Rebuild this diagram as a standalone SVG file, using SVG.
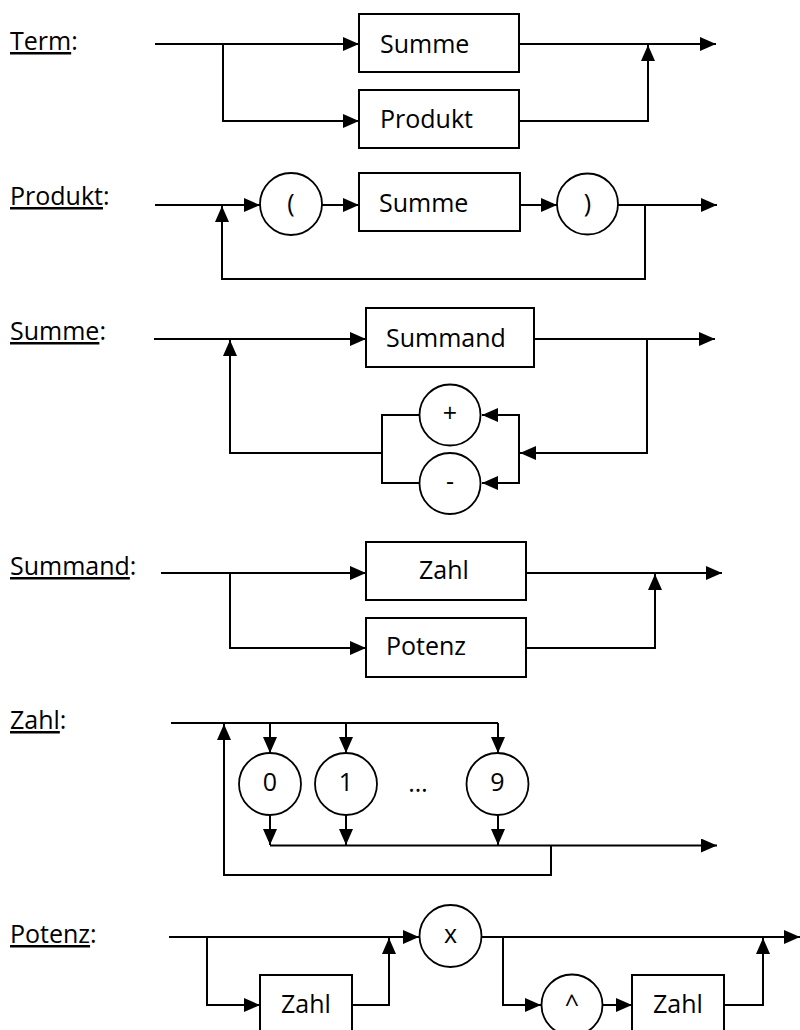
<svg xmlns="http://www.w3.org/2000/svg" width="800" height="1030" viewBox="0 0 800 1030">
<style>
text{font-family:"Open Sans","Noto Sans","DejaVu Sans",sans-serif;font-size:25px;fill:#000}
.lbl{font-size:25px}
.c{text-anchor:middle}
.box{fill:#fff;stroke:#000;stroke-width:2}
.circ{fill:#fff;stroke:#000;stroke-width:1.8}
.ln{fill:none;stroke:#000;stroke-width:2}
.ar{fill:none;stroke:#000;stroke-width:2;marker-end:url(#ah)}
</style>
<defs>
<marker id="ah" viewBox="0 0 16 14" markerWidth="16" markerHeight="14" refX="16" refY="7" orient="auto" markerUnits="userSpaceOnUse">
<path d="M0,0 L16,7 L0,14 z" fill="#000"/>
</marker>
</defs>
<rect width="800" height="1030" fill="#fff"/>

<g id="labels">
<text id="lbl-term" x="10" y="50"><tspan text-decoration="underline">Term</tspan>:</text>
<text id="lbl-produkt" x="10" y="205"><tspan text-decoration="underline">Produkt</tspan>:</text>
<text id="lbl-summe" x="10" y="340"><tspan text-decoration="underline">Summe</tspan>:</text>
<text id="lbl-summand" x="10" y="575"><tspan text-decoration="underline">Summand</tspan>:</text>
<text id="lbl-zahl" x="10" y="729"><tspan text-decoration="underline">Zahl</tspan>:</text>
<text id="lbl-potenz" x="10" y="943"><tspan text-decoration="underline">Potenz</tspan>:</text>
</g>

<g id="connectors">
<!-- Term -->
<path class="ar" d="M155,44 H359"/>
<path class="ar" d="M223,44 V121 H359"/>
<path class="ar" d="M519,44 H716"/>
<path class="ar" d="M519,121 H648 V45"/>
<!-- Produkt -->
<path class="ar" d="M155,205 H260"/>
<path class="ar" d="M322,205 H359"/>
<path class="ar" d="M520,205 H557"/>
<path class="ar" d="M618,205 H717"/>
<path class="ar" d="M645,205 V279 H222 V206"/>
<!-- Summe -->
<path class="ar" d="M154,339 H366"/>
<path class="ar" d="M534,339 H715"/>
<path class="ar" d="M647,339 V453 H520"/>
<path class="ln" d="M519,414 V484"/>
<path class="ar" d="M519,415 H482"/>
<path class="ar" d="M519,483 H482"/>
<path class="ln" d="M419,415 H382 V483 H419"/>
<path class="ar" d="M382,453 H230 V340"/>
<!-- Summand -->
<path class="ar" d="M161,573 H366"/>
<path class="ar" d="M230,573 V648 H366"/>
<path class="ar" d="M526,573 H722"/>
<path class="ar" d="M526,648 H655 V574"/>
<!-- Zahl -->
<path class="ln" d="M171,723 H498"/>
<path class="ar" d="M270,723 V753"/>
<path class="ar" d="M346,723 V753"/>
<path class="ar" d="M498,723 V753"/>
<path class="ar" d="M270,815 V845"/>
<path class="ar" d="M346,815 V845"/>
<path class="ar" d="M498,815 V845"/>
<path class="ar" d="M270,845.5 H717"/>
<path class="ar" d="M551,845 V875 H224 V724"/>
<!-- Potenz -->
<path class="ar" d="M169,937 H419"/>
<path class="ar" d="M207,937 V1005 H260"/>
<path class="ar" d="M352,1005 H389 V938"/>
<path class="ar" d="M481,937 H800"/>
<path class="ar" d="M503,937 V1005 H541"/>
<path class="ar" d="M603,1005 H632"/>
<path class="ar" d="M724,1005 H763 V938"/>
</g>

<!-- Term nodes -->
<g id="term-summe"><rect class="box" x="359" y="14" width="160" height="58"/><text x="380" y="53">Summe</text></g>
<g id="term-produkt"><rect class="box" x="359" y="90" width="160" height="58"/><text x="380" y="128">Produkt</text></g>

<!-- Produkt nodes -->
<g id="produkt-open"><circle class="circ" cx="291" cy="204" r="31"/><text class="c" x="291" y="212">(</text></g>
<g id="produkt-summe"><rect class="box" x="359" y="173" width="161" height="58"/><text x="379" y="212">Summe</text></g>
<g id="produkt-close"><circle class="circ" cx="587.5" cy="204" r="30.5"/><text class="c" x="587.5" y="212">)</text></g>

<!-- Summe nodes -->
<g id="summe-summand"><rect class="box" x="366" y="308" width="168" height="59"/><text x="386" y="347">Summand</text></g>
<g id="summe-plus"><circle class="circ" cx="450" cy="415" r="30.5"/><text class="c" x="450" y="422">+</text></g>
<g id="summe-minus"><circle class="circ" cx="450" cy="483.5" r="30.5"/><text class="c" x="450" y="490">-</text></g>

<!-- Summand nodes -->
<g id="summand-zahl"><rect class="box" x="366" y="542" width="160" height="58"/><text x="419" y="579">Zahl</text></g>
<g id="summand-potenz"><rect class="box" x="366" y="618" width="160" height="59"/><text x="386" y="655">Potenz</text></g>

<!-- Zahl nodes -->
<g id="zahl-0"><circle class="circ" cx="270" cy="784" r="31"/><text class="c" x="270" y="791">0</text></g>
<g id="zahl-1"><circle class="circ" cx="346" cy="784" r="31"/><text class="c" x="346" y="791">1</text></g>
<g id="zahl-dots"><text class="c" x="418" y="792">…</text></g>
<g id="zahl-9"><circle class="circ" cx="497.5" cy="784" r="31"/><text class="c" x="497.5" y="791">9</text></g>

<!-- Potenz nodes -->
<g id="potenz-zahl1"><rect class="box" x="260" y="975" width="92" height="62"/><text x="281" y="1013">Zahl</text></g>
<g id="potenz-x"><circle class="circ" cx="450.5" cy="936" r="31"/><text class="c" x="450.5" y="943">x</text></g>
<g id="potenz-caret"><circle class="circ" cx="572" cy="1005" r="30.5"/><text class="c" x="572" y="1013">^</text></g>
<g id="potenz-zahl2"><rect class="box" x="632" y="975" width="92" height="62"/><text x="653" y="1013">Zahl</text></g>
</svg>
